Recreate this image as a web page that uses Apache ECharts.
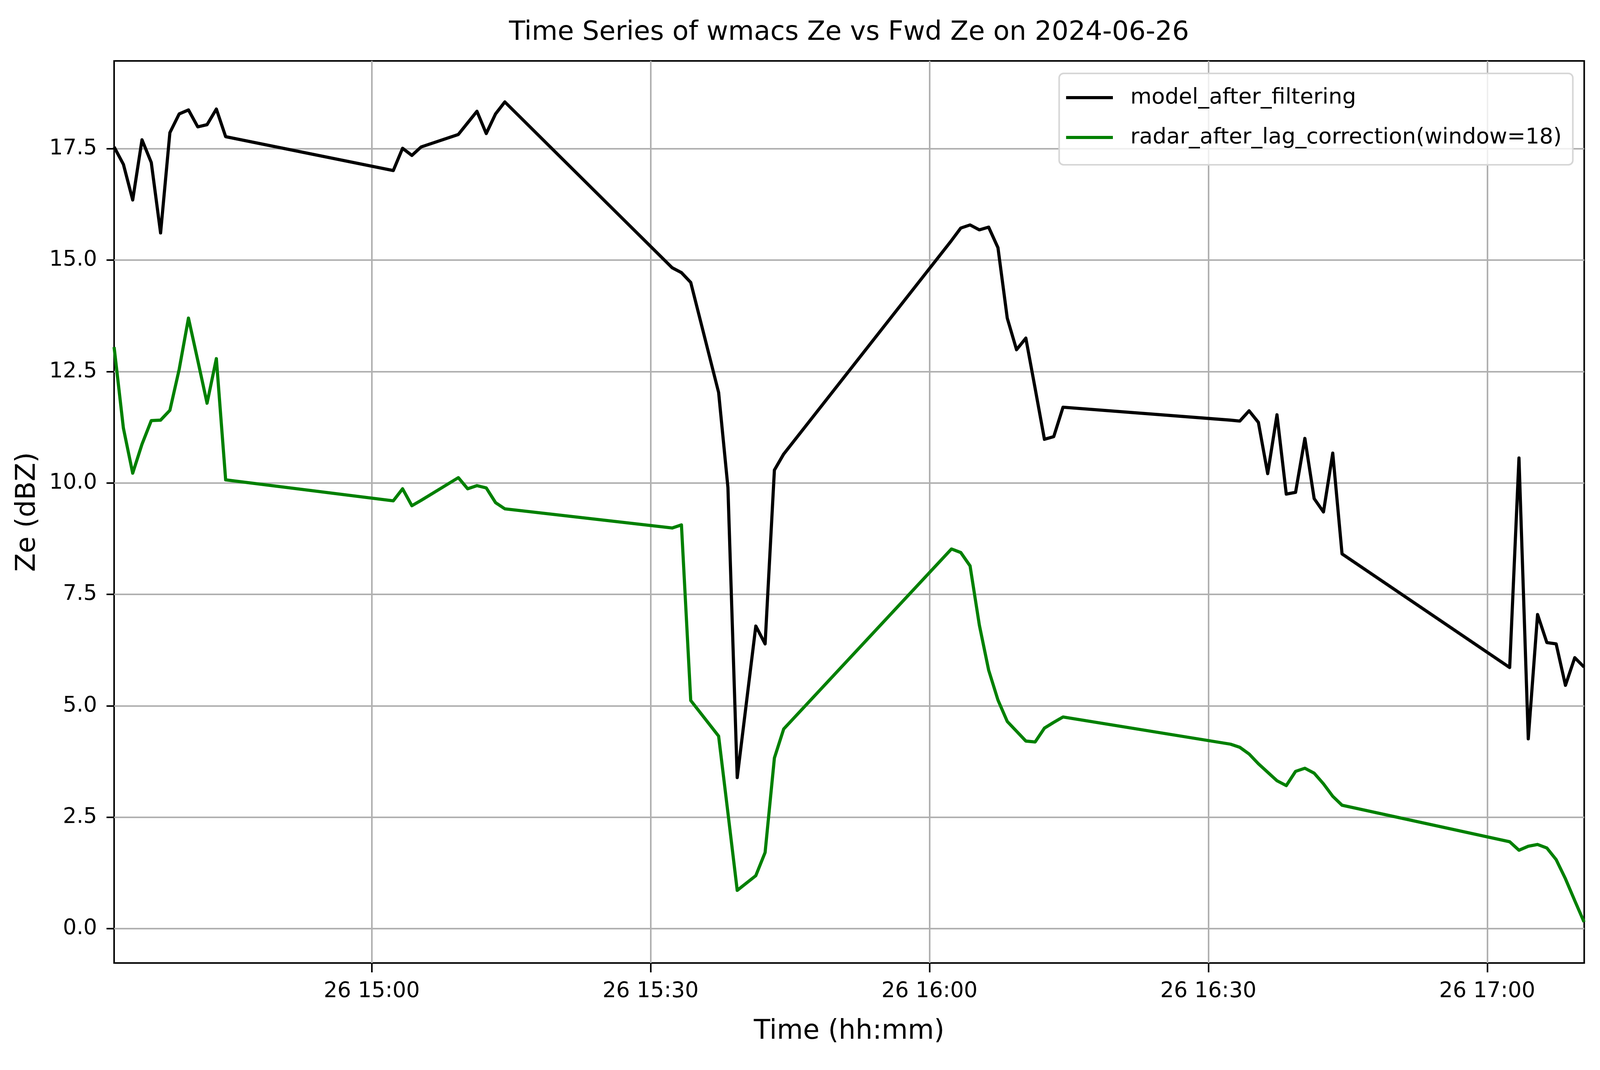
<!DOCTYPE html>
<html>
<head>
<meta charset="utf-8">
<title>wmacs Ze vs Fwd Ze</title>
<script src="https://cdn.jsdelivr.net/npm/echarts@6/dist/echarts.min.js"></script>
<style>
html, body { margin: 0; padding: 0; background: #ffffff; overflow: hidden; }
#canvas { width: 5062px; height: 2740px; }
</style>
</head>
<body>
<div id="canvas"></div>
<script>
// sample times on 2024-06-26 (hh:mm:ss)
var times = [
    '14:32:17', '14:33:17', '14:34:17', '14:35:17', '14:36:17', '14:37:17', '14:38:17',
    '14:39:17', '14:40:17', '14:41:17', '14:42:17', '14:43:17', '14:44:17',
    '15:02:19', '15:03:19', '15:04:19', '15:05:19', '15:09:19', '15:10:19', '15:11:19',
    '15:12:19', '15:13:19', '15:14:19',
    '15:32:19', '15:33:19', '15:34:19', '15:37:19', '15:38:19', '15:39:19', '15:41:19',
    '15:42:19', '15:43:19', '15:44:19',
    '16:02:22', '16:03:22', '16:04:22', '16:05:22', '16:06:22', '16:07:22', '16:08:22',
    '16:09:22', '16:10:22', '16:11:22', '16:12:22', '16:13:22', '16:14:22',
    '16:32:23', '16:33:23', '16:34:23', '16:35:23', '16:36:23', '16:37:23', '16:38:23',
    '16:39:23', '16:40:23', '16:41:23', '16:42:23', '16:43:23', '16:44:23',
    '17:02:25', '17:03:25', '17:04:25', '17:05:25', '17:06:25', '17:07:25', '17:08:25',
    '17:09:25', '17:10:25'
];
var modelZe = [
    17.54, 17.15, 16.35, 17.70, 17.19, 15.61, 17.86, 18.28, 18.37, 17.99, 18.04, 18.39, 17.77,
    17.01, 17.51, 17.35, 17.54, 17.82, 18.08, 18.34, 17.84, 18.28, 18.55,
    14.83, 14.72, 14.50, 12.03, 9.90, 3.39, 6.79, 6.39, 10.29, 10.65,
    15.44, 15.72, 15.79, 15.68, 15.74, 15.28, 13.70, 12.99, 13.25, 12.12, 10.98, 11.04, 11.70,
    11.41, 11.39, 11.62, 11.36, 10.21, 11.53, 9.75, 9.79, 11.00, 9.65, 9.35, 10.67, 8.41,
    5.86, 10.56, 4.26, 7.05, 6.42, 6.39, 5.46, 6.08, 5.87
];
var radarZe = [
    13.05, 11.23, 10.22, 10.87, 11.40, 11.41, 11.63, 12.55, 13.70, 12.75, 11.79, 12.79, 10.07,
    9.60, 9.87, 9.49, 9.61, 10.12, 9.87, 9.94, 9.89, 9.56, 9.42,
    8.99, 9.06, 5.12, 4.32, 2.60, 0.86, 1.19, 1.71, 3.83, 4.48,
    8.52, 8.44, 8.14, 6.81, 5.80, 5.13, 4.65, 4.43, 4.21, 4.19, 4.50, 4.63, 4.75,
    4.14, 4.07, 3.92, 3.70, 3.51, 3.32, 3.21, 3.53, 3.60, 3.49, 3.25, 2.97, 2.77,
    1.95, 1.76, 1.85, 1.89, 1.81, 1.55, 1.12, 0.63, 0.15
];
var timeTicks = ['15:00', '15:30', '16:00', '16:30', '17:00'];
var zeTicks = [0, 2.5, 5, 7.5, 10, 12.5, 15, 17.5];
var timeMin = '14:32:17';
var timeMax = '17:10:26';
var zeMin = -0.77;
var zeMax = 19.47;

function toMs(t) {
    var p = t.split(':').map(Number);
    return new Date(2024, 5, 26, p[0], p[1], p[2] || 0).getTime();
}
function pad(n) {
    return (n < 10 ? '0' : '') + n;
}
function pairs(vals) {
    return times.map(function (t, i) { return [toMs(t), vals[i]]; });
}

// layout numbers are for a 5062x2740 page; fit them to the real viewport
var W = window.innerWidth || 5062;
var H = window.innerHeight || 2740;
var sx = W / 5062;
var sy = H / 2740;
var sf = Math.min(sx, sy);
function px(v) { return v * sx; }   // horizontal
function py(v) { return v * sy; }   // vertical
function pf(v) { return v * sf; }   // fonts, line widths
var el = document.getElementById('canvas');
el.style.width = W + 'px';
el.style.height = H + 'px';

var font = 'DejaVu Sans';
var myChart = echarts.init(el);
option = {
    animation: false,
    backgroundColor: '#ffffff',
    title: {
        text: 'Time Series of wmacs Ze vs Fwd Ze on 2024-06-26',
        left: px(2686),
        top: py(84) - pf(42),
        padding: 0,
        textAlign: 'center',
        textStyle: {
            fontFamily: font,
            fontSize: pf(84),
            fontWeight: 'normal',
            color: '#000000',
            lineHeight: pf(84)
        }
    },
    legend: {
        orient: 'vertical',
        right: px(86),
        top: py(188),
        icon: 'rect',
        itemWidth: px(148),
        itemHeight: pf(10),
        itemGap: py(102) - pf(80),
        padding: [py(250) - pf(40) - py(188), px(35), py(422) - py(352) - pf(40), px(22)],
        backgroundColor: 'rgba(255,255,255,0.8)',
        borderColor: '#d6d6d6',
        borderWidth: pf(5),
        borderRadius: pf(14),
        formatter: function (name) {
            return '{gap|}' + name;
        },
        textStyle: {
            fontFamily: font,
            fontSize: pf(69),
            color: '#000000',
            lineHeight: pf(80),
            rich: {
                gap: { width: px(49) }
            }
        },
        data: ['model_after_filtering', 'radar_after_lag_correction(window=18)']
    },
    grid: {
        left: px(361),
        right: px(50),
        top: py(156),
        bottom: py(274),
        show: true,
        borderColor: '#000000',
        borderWidth: pf(5),
        backgroundColor: 'transparent'
    },
    xAxis: {
        type: 'value',
        min: toMs(timeMin),
        max: toMs(timeMax),
        name: 'Time (hh:mm)',
        nameLocation: 'middle',
        nameGap: py(148) - pf(8),
        nameTextStyle: {
            fontFamily: font,
            fontSize: pf(85),
            color: '#000000'
        },
        axisLine: { show: false, onZero: false },
        axisTick: {
            show: true,
            length: py(24),
            inside: false,
            lineStyle: { color: '#000000', width: pf(5) },
            customValues: timeTicks.map(toMs)
        },
        axisLabel: {
            fontFamily: font,
            fontSize: pf(68),
            color: '#000000',
            margin: py(51) - pf(7),
            customValues: timeTicks.map(toMs),
            formatter: function (v) {
                var d = new Date(v);
                return pad(d.getDate()) + ' ' + pad(d.getHours()) + ':' + pad(d.getMinutes());
            }
        },
        splitLine: {
            show: true,
            lineStyle: { color: '#b0b0b0', width: pf(5) }
        }
    },
    yAxis: {
        type: 'value',
        min: zeMin,
        max: zeMax,
        name: 'Ze (dBZ)',
        nameLocation: 'middle',
        nameGap: px(246) - pf(16),
        nameTextStyle: {
            fontFamily: font,
            fontSize: pf(86),
            color: '#000000'
        },
        axisLine: { show: false, onZero: false },
        axisTick: {
            show: true,
            length: px(24),
            inside: false,
            lineStyle: { color: '#000000', width: pf(5) },
            customValues: zeTicks
        },
        axisLabel: {
            fontFamily: font,
            fontSize: pf(68),
            color: '#000000',
            margin: px(54),
            customValues: zeTicks,
            formatter: function (v) {
                return Number(v).toFixed(1);
            }
        },
        splitLine: {
            show: true,
            lineStyle: { color: '#b0b0b0', width: pf(5) }
        }
    },
    series: [{
        name: 'model_after_filtering',
        type: 'line',
        showSymbol: false,
        symbol: 'none',
        color: '#000000',
        lineStyle: { width: pf(10), color: '#000000', join: 'round' },
        data: pairs(modelZe)
    }, {
        name: 'radar_after_lag_correction(window=18)',
        type: 'line',
        showSymbol: false,
        symbol: 'none',
        color: '#008000',
        lineStyle: { width: pf(10), color: '#008000', join: 'round' },
        data: pairs(radarZe)
    }]
};
myChart.setOption(option);
</script>
</body>
</html>
